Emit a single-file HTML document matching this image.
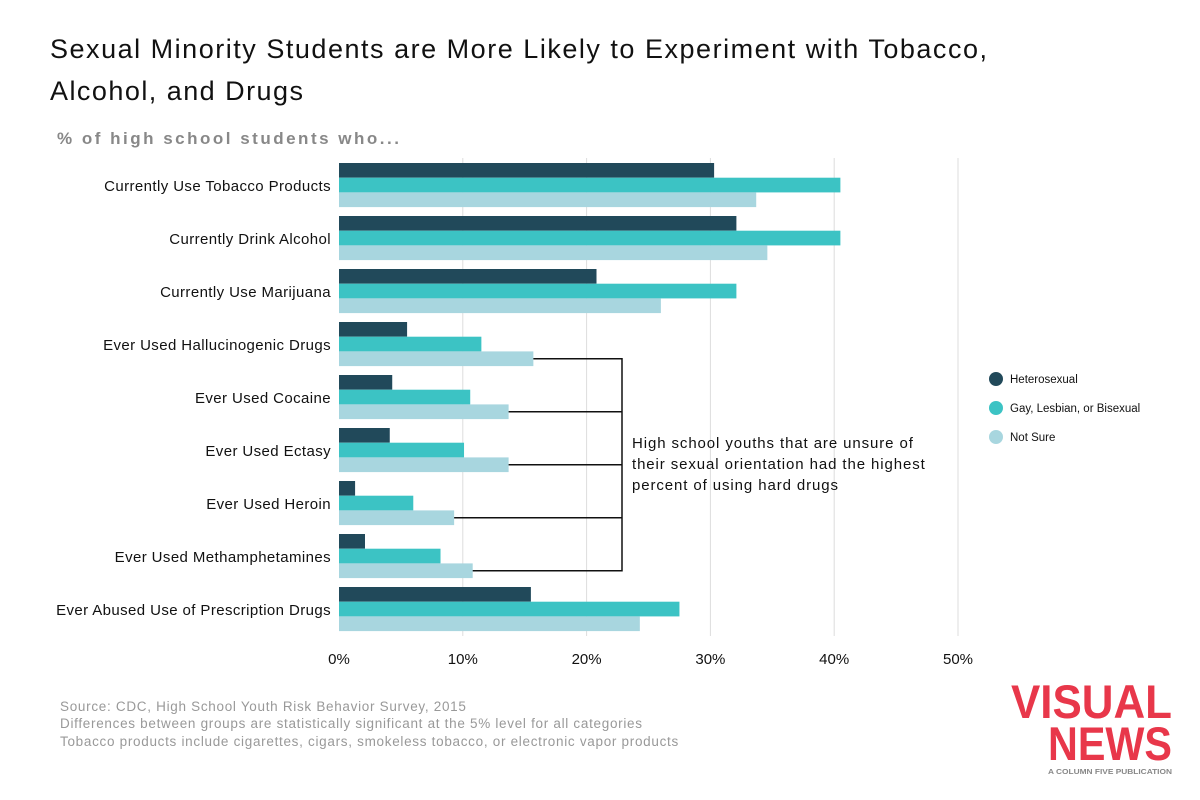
<!DOCTYPE html>
<html><head><meta charset="utf-8"><style>
body{margin:0;background:#fff;font-family:"Liberation Sans",sans-serif;}
#wrap{position:relative;width:1200px;height:800px;overflow:hidden;}
svg text{font-family:"Liberation Sans",sans-serif;}
</style></head><body>
<div id="wrap">
<svg id="chart" width="1200" height="800">
<text x="50" y="58" font-size="27" fill="#111" textLength="937" lengthAdjust="spacing">Sexual Minority Students are More Likely to Experiment with Tobacco,</text>
<text x="50" y="100" font-size="27" fill="#111" textLength="253" lengthAdjust="spacing">Alcohol, and Drugs</text>
<text x="57" y="144" font-size="17" font-weight="bold" fill="#888" letter-spacing="2.5">% of high school students who...</text>
<g id="grid"></g><g id="bars"></g><g id="labels"></g><g id="ticks"></g>
<g id="bracket" stroke="#111" stroke-width="1.5" fill="none"></g>
<text font-size="15" fill="#111" letter-spacing="0.9"><tspan x="632" y="448">High school youths that are unsure of</tspan><tspan x="632" y="469">their sexual orientation had the highest</tspan><tspan x="632" y="490">percent of using hard drugs</tspan></text>
<g id="legend"></g>
<text font-size="13.5" fill="#999" letter-spacing="0.7"><tspan x="60" y="711">Source: CDC, High School Youth Risk Behavior Survey, 2015</tspan><tspan x="60" y="728">Differences between groups are statistically significant at the 5% level for all categories</tspan><tspan x="60" y="746">Tobacco products include cigarettes, cigars, smokeless tobacco, or electronic vapor products</tspan></text>
<text x="1172" y="718" text-anchor="end" font-size="47" font-weight="bold" fill="#e8374a" textLength="161" lengthAdjust="spacingAndGlyphs">VISUAL</text>
<text x="1172" y="760" text-anchor="end" font-size="47" font-weight="bold" fill="#e8374a" textLength="124" lengthAdjust="spacingAndGlyphs">NEWS</text>
<text x="1172" y="774" text-anchor="end" font-size="7.5" font-weight="bold" fill="#888" textLength="124" lengthAdjust="spacingAndGlyphs">A COLUMN FIVE PUBLICATION</text>
</svg>
<script>
const categories=["Currently Use Tobacco Products","Currently Drink Alcohol","Currently Use Marijuana","Ever Used Hallucinogenic Drugs","Ever Used Cocaine","Ever Used Ectasy","Ever Used Heroin","Ever Used Methamphetamines","Ever Abused Use of Prescription Drugs"];
const heterosexual=[30.3,32.1,20.8,5.5,4.3,4.1,1.3,2.1,15.5];
const gayLesbianBi=[40.5,40.5,32.1,11.5,10.6,10.1,6.0,8.2,27.5];
const notSure=[33.7,34.6,26.0,15.7,13.7,13.7,9.3,10.8,24.3];
const seriesNames=["Heterosexual","Gay, Lesbian, or Bisexual","Not Sure"];
const tickValues=[0,10,20,30,40,50];
const tickLabels=["0%","10%","20%","30%","40%","50%"];
const bracketIdx=[3,4,5,6,7];
const colors=["#21495a","#3cc3c4","#a8d6df"];
const NS="http://www.w3.org/2000/svg";
const x0=339,pxPer=(958-339)/50,top0=163,gStep=53,bh=14.7;
const xs=v=>x0+v*pxPer;
function mk(t,a,p){const e=document.createElementNS(NS,t);for(const k in a)e.setAttribute(k,a[k]);document.getElementById(p).appendChild(e);return e;}
tickValues.forEach((v,i)=>{
 if(i>0){const l=mk("line",{x1:xs(v),x2:xs(v),y1:158,y2:636,stroke:"#ddd","stroke-width":1},"grid");
 
 }
 const t=mk("text",{x:xs(v),y:664,"text-anchor":"middle","font-size":15,fill:"#111"},"ticks");t.textContent=tickLabels[i];
 
 
});
const series=[heterosexual,gayLesbianBi,notSure];
categories.forEach((c,i)=>{
 const gy=top0+i*gStep;
 series.forEach((s,j)=>{
  const r=mk("rect",{x:x0,y:gy+j*bh,width:xs(s[i])-x0,height:bh,fill:colors[j]},"bars");
  
  
 });
 const t=mk("text",{x:331,y:gy+28,"text-anchor":"end","font-size":15,"letter-spacing":0.4,fill:"#111"},"labels");t.textContent=c;
 
 
});
const bx=622;let ys=[];
bracketIdx.forEach(i=>{
 const y=top0+i*gStep+2.5*bh;ys.push(y);
 const l=mk("line",{x1:xs(notSure[i]),x2:bx,y1:y,y2:y},"bracket");
 
 
});
const v=mk("line",{x1:bx,x2:bx,y1:Math.min(...ys)-0.75,y2:Math.max(...ys)+0.75},"bracket");


seriesNames.forEach((n,j)=>{
 const y=379+j*29;
 const c=mk("circle",{cx:996,cy:y,r:7,fill:colors[j]},"legend");
 
 
 const t=mk("text",{x:1010,y:y+4,"font-size":11.5,fill:"#111"},"legend");t.textContent=n;
 
 
});
</script>
</div></body></html>
